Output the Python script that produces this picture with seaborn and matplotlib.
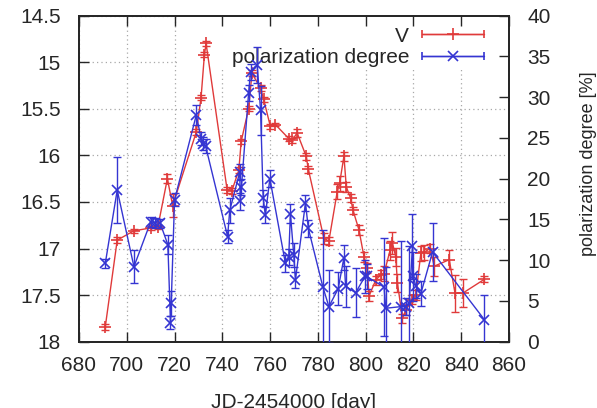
import numpy as np
import pandas as pd
import matplotlib
matplotlib.use("Agg")
import matplotlib.pyplot as plt
from matplotlib.patches import Rectangle
from matplotlib.legend_handler import HandlerErrorbar
import seaborn as sns

# V-band light curve: day (JD-2454000), magnitude, 1-sigma error
v_day = [691.0, 696.0, 703.0, 710.0, 713.0, 717.0, 719.2, 729.1, 731.1, 732.5,
         733.2, 742.0, 744.0, 746.9, 747.9, 751.0, 752.4, 756.0, 757.3, 760.1,
         762.2, 767.8, 769.2, 771.3, 775.1, 776.0, 782.5, 784.6, 788.1, 789.1,
         790.9, 791.9, 793.7, 794.7, 797.2, 799.3, 800.7, 801.4, 804.2, 806.3,
         807.7, 810.2, 811.2, 812.6, 813.3, 815.4, 816.8, 819.6, 821.0, 823.1,
         824.5, 827.0, 828.7, 835.0, 837.4, 840.6, 849.7]
v_mag = [17.84, 16.91, 16.81, 16.78, 16.77, 16.25, 16.54, 15.75, 15.38, 14.92,
         14.80, 16.37, 16.38, 16.16, 15.85, 15.50, 15.12, 15.28, 15.40, 15.69,
         15.67, 15.82, 15.84, 15.76, 16.01, 16.15, 16.89, 16.92, 16.39, 16.30,
         16.01, 16.34, 16.46, 16.59, 16.80, 17.09, 17.21, 17.51, 17.34, 17.28,
         17.27, 17.02, 16.94, 17.09, 17.37, 17.75, 17.66, 17.55, 17.50, 17.05,
         17.04, 17.00, 17.19, 17.12, 17.48, 17.48, 17.33]
v_err = [0.03, 0.03, 0.02, 0.02, 0.02, 0.05, 0.12, 0.03, 0.03, 0.03,
         0.03, 0.03, 0.03, 0.03, 0.03, 0.03, 0.03, 0.03, 0.03, 0.03,
         0.02, 0.03, 0.03, 0.04, 0.04, 0.04, 0.06, 0.04, 0.08, 0.08,
         0.05, 0.05, 0.04, 0.04, 0.05, 0.05, 0.05, 0.05, 0.05, 0.05,
         0.08, 0.10, 0.12, 0.10, 0.10, 0.05, 0.05, 0.05, 0.05, 0.08,
         0.08, 0.05, 0.10, 0.10, 0.20, 0.15, 0.03]

# Polarization degree: day, percent, 1-sigma error
p_day = [691.0, 696.0, 703.0, 710.0, 712.0, 714.0, 717.2, 718.3, 718.6, 720.0,
         729.1, 731.1, 731.9, 733.0, 742.2, 743.1, 747.3, 747.5, 748.0, 751.0,
         751.8, 754.6, 756.0, 757.1, 758.0, 759.9, 766.4, 767.8, 768.5, 769.9,
         770.6, 774.8, 776.0, 782.1, 784.6, 788.5, 790.9, 791.6, 795.8, 799.7,
         800.4, 807.7, 808.4, 814.7, 816.8, 818.2, 819.6, 819.9, 821.0, 823.1,
         828.0, 849.7]
p_deg = [9.6, 18.6, 9.2, 14.7, 14.6, 14.5, 11.9, 2.3, 4.7, 17.4,
         27.8, 24.9, 24.3, 24.0, 12.9, 16.1, 20.8, 17.2, 19.0, 30.5,
         33.1, 33.9, 28.4, 17.6, 15.5, 20.0, 9.6, 10.4, 15.7, 10.6,
         7.6, 17.0, 13.9, 6.7, 4.3, 6.5, 10.3, 6.8, 6.0, 8.0,
         8.0, 6.7, 4.1, 4.3, 4.3, 4.7, 11.7, 8.0, 6.8, 5.9,
         11.0, 2.7]
p_err = [0.6, 4.0, 2.0, 0.6, 0.6, 0.6, 1.2, 0.8, 1.5, 0.8,
         1.2, 0.8, 0.8, 0.8, 0.8, 1.5, 1.0, 1.0, 1.0, 1.0,
         1.0, 2.2, 3.0, 1.0, 1.0, 1.0, 1.0, 1.0, 1.2, 1.5,
         1.0, 1.0, 1.0, 7.0, 4.5, 2.0, 1.5, 2.5, 3.0, 2.0,
         1.5, 6.0, 5.0, 8.0, 1.0, 7.0, 4.0, 3.0, 1.5, 1.5,
         3.6, 3.0]

x_ticks = list(range(680, 861, 20))
v_ticks = [14.5, 15.0, 15.5, 16.0, 16.5, 17.0, 17.5, 18.0]
v_tick_labels = ["14.5", "15", "15.5", "16", "16.5", "17", "17.5", "18"]
p_ticks = list(range(0, 41, 5))

RED = "#e03a3a"
BLUE = "#3535d2"
INK = "#262626"

sns.set_style("ticks")
plt.rcParams["font.family"] = ["Liberation Sans", "DejaVu Sans"]
plt.rcParams["font.size"] = 15
plt.rcParams["text.color"] = INK
plt.rcParams["xtick.color"] = INK
plt.rcParams["ytick.color"] = INK

fig = plt.figure(figsize=(5.97, 4.08), dpi=100)
W, H = 597.0, 408.0
x0, x1, y0, y1 = 79.0, 509.0, 15.5, 341.7
ax = fig.add_axes([x0 / W, 1 - y1 / H, (x1 - x0) / W, (y1 - y0) / H])
ax2 = ax.twinx()

# V magnitude on the left (inverted) axis
vdf = pd.DataFrame({"day": v_day, "V": v_mag})
sns.lineplot(data=vdf, x="day", y="V", ax=ax, color=RED, linewidth=1.0,
             marker="+", markersize=9, markeredgewidth=1.2, markeredgecolor=RED,
             estimator=None, sort=False, zorder=3)
ax.errorbar(v_day, v_mag, yerr=v_err, fmt="none", ecolor=RED,
            elinewidth=1.0, capsize=3, capthick=1.0, zorder=3)

# polarization degree on the right axis
pdf = pd.DataFrame({"day": p_day, "P": p_deg})
sns.lineplot(data=pdf, x="day", y="P", ax=ax2, color=BLUE, linewidth=1.0,
             marker="x", markersize=7, markeredgewidth=1.2, markeredgecolor=BLUE,
             estimator=None, sort=False, zorder=3)
ax2.errorbar(p_day, p_deg, yerr=p_err, fmt="none", ecolor=BLUE,
             elinewidth=1.0, capsize=3, capthick=1.0, zorder=3)

ax.set_xlim(680, 860)
ax.set_ylim(18, 14.5)
ax2.set_ylim(0, 40)

ax.set_xticks(x_ticks)
ax.set_xticklabels([str(t) for t in x_ticks])
ax.set_yticks(v_ticks)
ax.set_yticklabels(v_tick_labels)
ax2.set_yticks(p_ticks)
ax2.set_yticklabels([str(t) for t in p_ticks])

ax.set_axisbelow(True)
ax.grid(True, which="major", linestyle=(0, (1, 2.5)), color="#a8a8a8", linewidth=0.9)

ax.tick_params(axis="x", direction="in", length=7, width=1.0, pad=10.5,
               top=False, bottom=True, labelsize=15)
ax.tick_params(axis="y", direction="in", length=7, width=1.0, pad=13,
               left=True, right=False, labelsize=15)
ax2.tick_params(axis="y", direction="in", length=7, width=1.0, pad=13,
                left=False, right=True, labelsize=15)
# mirrored top ticks live on the twin so they stay above the key box
ax2.xaxis.set_visible(True)
ax2.tick_params(axis="x", direction="in", length=7, width=1.0,
                top=True, bottom=False, labeltop=False, labelbottom=False)
ax2.set_xlabel("")

for a in (ax, ax2):
    for s in a.spines.values():
        s.set_linewidth(1.3)
        s.set_color(INK)

ax.set_xlabel("JD-2454000 [day]", fontsize=15, labelpad=13)
ax.set_ylabel("")
ax2.set_ylabel("polarization degree [%]", fontsize=13)
ax2.yaxis.set_label_coords((588 - x0) / (x1 - x0), (y1 - 164) / (y1 - y0))
ax2.yaxis.label.set_verticalalignment("center")
ax2.yaxis.label.set_horizontalalignment("center")

# opaque key background hiding the grid
ax.add_patch(Rectangle((0.235, 0.842), 0.765, 0.158, transform=ax.transAxes,
                       facecolor="white", edgecolor="none", zorder=1))

h_v = ax.errorbar([np.nan], [np.nan], xerr=[1], color=RED, marker="+",
                  markersize=9, markeredgewidth=1.2, linewidth=1.0,
                  capsize=3, capthick=1.0)
h_p = ax.errorbar([np.nan], [np.nan], xerr=[1], color=BLUE, marker="x",
                  markersize=7, markeredgewidth=1.2, linewidth=1.0,
                  capsize=3, capthick=1.0)
leg = ax.legend([h_v, h_p], ["V", "polarization degree"],
                loc="upper right", bbox_to_anchor=((484 - x0) / (x1 - x0), 0.966),
                borderaxespad=0, borderpad=0, frameon=False, markerfirst=False,
                handlelength=3.0, handletextpad=0.6, labelspacing=0.12,
                numpoints=1, fontsize=15,
                handler_map={type(h_v): HandlerErrorbar(xerr_size=1.5)})
leg.set_zorder(2)

fig.savefig("out.png", dpi=100)
